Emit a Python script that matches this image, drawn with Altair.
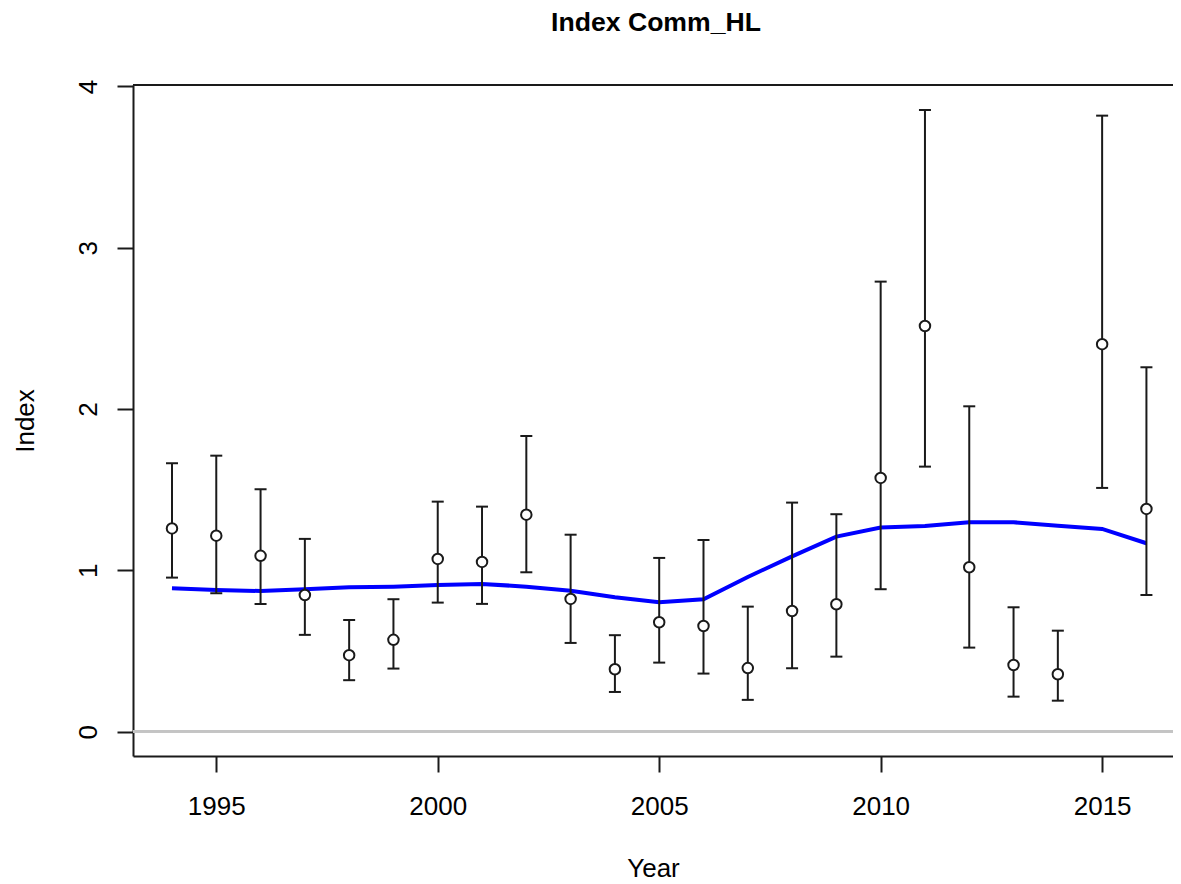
import altair as alt
import pandas as pd

years = list(range(1994, 2017))
obs = [1.260, 1.215, 1.090, 0.847, 0.474, 0.569, 1.071, 1.052, 1.345, 0.823, 0.387, 0.678,
       0.655, 0.394, 0.748, 0.790, 1.573, 2.515, 1.019, 0.413, 0.356, 2.402, 1.381]
upper = [1.664, 1.711, 1.503, 1.195, 0.692, 0.821, 1.426, 1.395, 1.833, 1.221, 0.598, 1.077,
         1.188, 0.775, 1.420, 1.348, 2.790, 3.854, 2.017, 0.771, 0.626, 3.819, 2.259]
lower = [0.955, 0.858, 0.792, 0.600, 0.319, 0.391, 0.800, 0.792, 0.988, 0.550, 0.246, 0.428,
         0.360, 0.197, 0.393, 0.465, 0.883, 1.643, 0.521, 0.217, 0.192, 1.511, 0.847]
fit = [0.889, 0.878, 0.872, 0.883, 0.895, 0.899, 0.909, 0.916, 0.899, 0.874, 0.833, 0.802,
       0.821, 0.959, 1.087, 1.209, 1.265, 1.275, 1.298, 1.298, 1.277, 1.257, 1.168]
x_ticks = [1995, 2000, 2005, 2010, 2015]
y_ticks = [0, 1, 2, 3, 4]

df = pd.DataFrame({"year": years, "obs": obs, "upper": upper, "lower": lower, "fit": fit})

W, H = 1040, 671
FONT = "Liberation Sans"
INK = "#1a1a1a"

xscale = alt.Scale(domain=[1993.12, 2016.60], nice=False, zero=False)
yscale = alt.Scale(domain=[-0.151, 4.009], nice=False, zero=False)

xaxis = alt.Axis(values=x_ticks, format="d", title="Year", labelPadding=42,
                 labelBaseline="alphabetic", labelFlush=False, titleBaseline="alphabetic",
                 titleY=120, titleAlign="center")
yaxis = alt.Axis(values=y_ticks, format="d", title="Index", labelAngle=270,
                 labelAlign="center", labelBaseline="alphabetic", labelPadding=21,
                 labelFlush=False, titleAngle=270, titleBaseline="alphabetic",
                 titleAlign="center", titleX=-100, titleY=H / 2)

X = alt.X("year:Q", scale=xscale, axis=xaxis)

base = alt.Chart(df)

zero = base.mark_rule(color="#c4c4c4", strokeWidth=2).encode(
    y=alt.datum(0, scale=yscale, axis=yaxis))

line = base.mark_line(color="#0000ff", strokeWidth=4).encode(
    x=X, y=alt.Y("fit:Q", scale=yscale, axis=yaxis))

bars = base.mark_rule(color=INK, strokeWidth=2).encode(
    x=X, y=alt.Y("lower:Q", scale=yscale, axis=yaxis), y2="upper:Q")

cap_lo = base.mark_tick(color=INK, orient="horizontal", size=12, thickness=2, opacity=1).encode(
    x=X, y=alt.Y("lower:Q", scale=yscale, axis=yaxis))
cap_hi = base.mark_tick(color=INK, orient="horizontal", size=12, thickness=2, opacity=1).encode(
    x=X, y=alt.Y("upper:Q", scale=yscale, axis=yaxis))

pts = base.mark_point(shape="circle", filled=True, fill="white", stroke=INK,
                      strokeWidth=2, size=110, opacity=1).encode(
    x=X, y=alt.Y("obs:Q", scale=yscale, axis=yaxis))

top = base.mark_rule(color=INK, strokeWidth=2).encode(
    x=alt.value(0), x2=alt.value(W), y=alt.value(0))

chart = alt.layer(zero, line, bars, cap_lo, cap_hi, pts, top).properties(
    width=W, height=H,
    title=alt.TitleParams("Index Comm_HL", fontSize=26.6, fontWeight="bold", font=FONT,
                          anchor="middle", baseline="alphabetic", offset=22, dx=3,
                          color="black"),
    autosize=alt.AutoSizeParams(type="none"),
    padding={"left": 125, "top": 77, "right": 0, "bottom": 128},
).configure_view(stroke=None).configure_axis(
    grid=False, domainColor=INK, domainWidth=2, tickColor=INK, tickWidth=2, tickSize=16,
    labelFont=FONT, labelFontSize=26, labelColor="black",
    titleFont=FONT, titleFontSize=26, titleFontWeight="normal", titleColor="black",
)

chart.save("out.html", embed_options={"renderer": "svg", "actions": False})
